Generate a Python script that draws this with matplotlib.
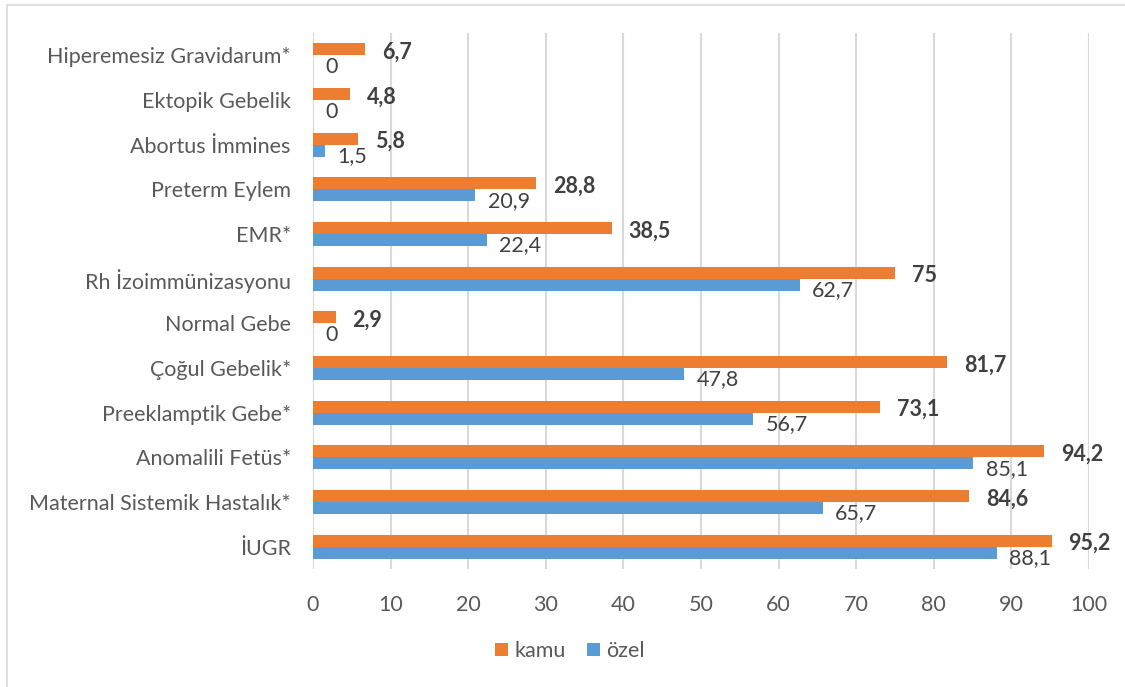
import matplotlib.pyplot as plt
from matplotlib.patches import Rectangle
import numpy as np

# categories from bottom to top
categories = ['İUGR', 'Maternal Sistemik Hastalık*', 'Anomalili Fetüs*',
              'Preeklamptik Gebe*', 'Çoğul Gebelik*', 'Normal Gebe',
              'Rh İzoimmünizasyonu', 'EMR*', 'Preterm Eylem',
              'Abortus İmmines', 'Ektopik Gebelik', 'Hiperemesiz Gravidarum*']
kamu = [95.2, 84.6, 94.2, 73.1, 81.7, 2.9, 75, 38.5, 28.8, 5.8, 4.8, 6.7]
ozel = [88.1, 65.7, 85.1, 56.7, 47.8, 0, 62.7, 22.4, 20.9, 1.5, 0, 0]
x_ticks = list(range(0, 101, 10))


def fmt(v):
    s = f'{v:g}'
    return s.replace('.', ',')


plt.rcParams['font.family'] = ['Lato', 'DejaVu Sans']
FS = 15.5

W, H = 1125, 687
fig = plt.figure(figsize=(W / 100, H / 100), dpi=100)
ax = fig.add_axes([313 / W, 1 - 569 / H, (1089 - 313) / W, (569 - 33) / H])

# light chart-area border (right and bottom fall outside the image)
fig.patches.append(Rectangle((7 / W, -0.05), 1.05, 1 - 5 / H + 0.05,
                             transform=fig.transFigure, fill=False,
                             edgecolor='#D9D9D9', linewidth=1.2))

orange = '#ED7D31'
blue = '#5B9BD5'
y = np.arange(len(categories))
h = 0.27

ax.barh(y + h / 2, kamu, height=h, color=orange, label='kamu', zorder=3)
ax.barh(y - h / 2, ozel, height=h, color=blue, label='özel', zorder=3)

for yi, k, o in zip(y, kamu, ozel):
    ax.annotate(fmt(k), (k, yi + h / 2), xytext=(12, -2), textcoords='offset points',
                ha='left', va='center', fontsize=FS, fontweight='bold',
                color='#404040')
    ax.annotate(fmt(o), (o, yi - h / 2), xytext=(9, -4), textcoords='offset points',
                ha='left', va='center', fontsize=FS, color='#404040')

ax.set_xlim(0, 100)
ax.set_ylim(-0.5, len(categories) - 0.5)
ax.set_xticks(x_ticks)
ax.set_yticks(y)
ax.set_yticklabels(categories)
ax.tick_params(axis='both', length=0, labelsize=FS, colors='#595959')
ax.tick_params(axis='y', pad=16)
ax.tick_params(axis='x', pad=19)
ax.grid(axis='x', color='#D9D9D9', linewidth=1.5, zorder=0)
for s in ax.spines.values():
    s.set_visible(False)

handles, labels = ax.get_legend_handles_labels()
fig.legend(handles, labels, loc='center', bbox_to_anchor=(570 / W, 1 - 651 / H),
           ncol=2, frameon=False, fontsize=FS, handlelength=0.6,
           handleheight=0.6, handletextpad=0.3, columnspacing=1.0,
           labelcolor='#595959')

fig.savefig('out.png', dpi=100)
